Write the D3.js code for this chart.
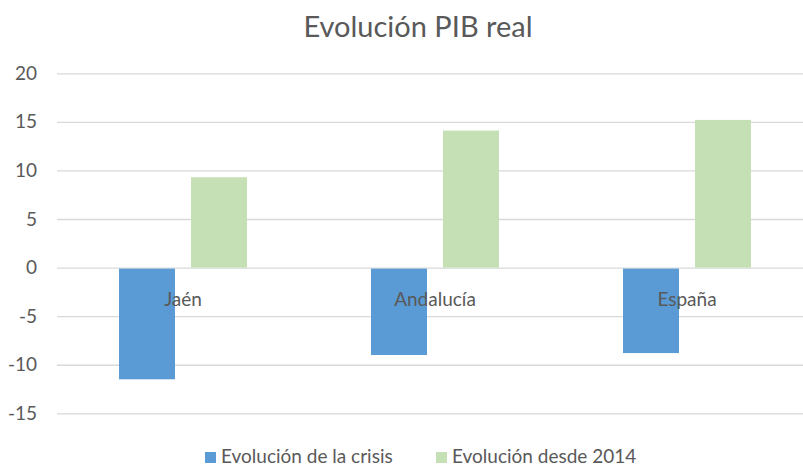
<!DOCTYPE html>
<html>
<head>
<meta charset="utf-8">
<style>
  body { margin: 0; background: #fff; }
  text { font-family: Lato, "Open Sans", sans-serif; fill: #595959; }
</style>
<title>Evolución PIB real</title>
</head>
<body>
<script src="https://cdn.jsdelivr.net/npm/d3@7"></script>
<script>
  // data
  var categories = ["Jaén", "Andalucía", "España"];
  var seriesNames = ["Evolución de la crisis", "Evolución desde 2014"];
  var crisis = [-11.5, -9.0, -8.8];
  var desde2014 = [9.3, 14.1, 15.2];
  var yTicks = [-15, -10, -5, 0, 5, 10, 15, 20];
  var colors = ["#5b9bd5", "#c5e0b4"];

  var width = 803, height = 466;
  var margin = { top: 73.3, left: 57, bottom: 52.7, right: -10 };

  var svg = d3.select("body").append("svg")
    .attr("width", width)
    .attr("height", height);

  var x = d3.scaleBand()
    .domain(categories)
    .range([margin.left, width - margin.right]);

  var xInner = d3.scaleBand()
    .domain(seriesNames)
    .range([62, 190])
    .paddingInner(16 / 72);

  var y = d3.scaleLinear()
    .domain([-15, 20])
    .range([height - margin.bottom, margin.top]);

  // gridlines + y labels (plain hyphen minus like the original)
  var yAxis = d3.axisLeft(y)
    .tickValues(yTicks)
    .tickFormat(function (d) { return String(d); })
    .tickSize(-(width - margin.right - margin.left))
    .tickPadding(20);

  var gy = svg.append("g")
    .attr("transform", "translate(" + margin.left + ",0)")
    .call(yAxis);
  gy.select(".domain").remove();
  gy.selectAll("line").attr("stroke", "#d9d9d9").attr("stroke-width", 1.3);
  gy.selectAll("text").attr("font-size", 19).style("fill", "#595959");

  // bars
  var rows = categories.map(function (c, i) {
    return { cat: c, vals: [crisis[i], desde2014[i]] };
  });

  var groups = svg.append("g").selectAll("g")
    .data(rows)
    .enter().append("g")
    .attr("transform", function (d) { return "translate(" + x(d.cat) + ",0)"; });

  groups.selectAll("rect")
    .data(function (d) { return d.vals.map(function (v, j) { return { s: seriesNames[j], v: v, j: j }; }); })
    .enter().append("rect")
    .attr("x", function (d) { return xInner(d.s); })
    .attr("width", xInner.bandwidth())
    .attr("y", function (d) { return d.v < 0 ? y(0) + 1 : y(d.v); })
    .attr("height", function (d) { return d.v < 0 ? y(d.v) - y(0) - 1 : y(0) - y(d.v); })
    .attr("fill", function (d) { return colors[d.j]; });

  // category labels sitting just under the zero line
  var xAxis = d3.axisBottom(x).tickSize(0).tickPadding(25);
  var gx = svg.append("g")
    .attr("transform", "translate(0," + y(0) + ")")
    .call(xAxis);
  gx.select(".domain").remove();
  gx.selectAll("text").attr("font-size", 19).style("fill", "#595959");

  // title
  svg.append("text")
    .attr("x", 418)
    .attr("y", 37)
    .attr("text-anchor", "middle")
    .attr("font-size", 29)
    .text("Evolución PIB real");

  // legend
  var legendX = [205, 436];
  var legend = svg.append("g").selectAll("g")
    .data(seriesNames)
    .enter().append("g")
    .attr("transform", function (d, i) { return "translate(" + legendX[i] + ",452)"; });
  legend.append("rect")
    .attr("width", 11).attr("height", 11)
    .attr("fill", function (d, i) { return colors[i]; });
  legend.append("text")
    .attr("x", 16)
    .attr("y", 11)
    .attr("font-size", 19)
    .text(function (d) { return d; });
</script>
</body>
</html>
